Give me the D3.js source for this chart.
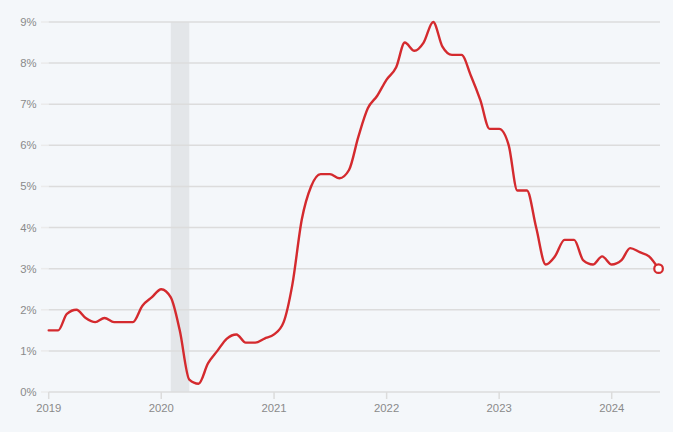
<!DOCTYPE html>
<html><head><meta charset="utf-8">
<script src="https://cdn.jsdelivr.net/npm/d3@7"></script>
<style>
html,body{margin:0;padding:0;background:#f4f7fa;}
svg{display:block;font-family:"Liberation Sans",Arial,sans-serif;}
</style></head>
<body><svg id="c" width="673" height="432"></svg>
<script>
// Monthly values, Jan 2019 – Jun 2024 (%)
const startYear = 2019;
const values = [
  1.5,1.5,1.9,2.0,1.8,1.7,1.8,1.7,1.7,1.7,2.1,2.3,
  2.5,2.3,1.5,0.3,0.2,0.7,1.0,1.3,1.4,1.2,1.2,1.3,
  1.4,1.7,2.6,4.2,5.0,5.3,5.3,5.2,5.4,6.2,6.9,7.2,
  7.6,7.9,8.5,8.3,8.5,9.0,8.4,8.2,8.2,7.7,7.1,6.4,
  6.4,6.0,4.9,4.9,4.0,3.1,3.3,3.7,3.7,3.2,3.1,3.3,
  3.1,3.2,3.5,3.4,3.3,3.0
];
const yTicks = [0,1,2,3,4,5,6,7,8,9];
const xTickYears = [2019,2020,2021,2022,2023,2024];
const recession = [new Date(2020,1,1), new Date(2020,3,1)];

const data = values.map((v,i)=>({date:new Date(startYear, i, 1), value:v}));

const svg = d3.select("#c");
const x = d3.scaleTime().domain([new Date(2019,0,1), new Date(2024,0,1)]).range([48.7, 611.7]);
const y = d3.scaleLinear().domain([0,9]).range([392, 22]);
const plotRight = 660;

// recession band
svg.append("rect")
  .attr("x", x(recession[0])).attr("y", y(9))
  .attr("width", x(recession[1]) - x(recession[0]))
  .attr("height", y(0) - y(9))
  .attr("fill", "#e3e6e9");

// y grid + labels
const yg = svg.append("g");
yTicks.forEach(t=>{
  yg.append("line").attr("x1",41).attr("x2",48.7).attr("y1",y(t)).attr("y2",y(t))
    .attr("stroke","#ebebeb").attr("stroke-width",1.5);
  yg.append("line").attr("x1",48.7).attr("x2",plotRight).attr("y1",y(t)).attr("y2",y(t))
    .attr("stroke","#dcdcdc").attr("stroke-width",1.5);
  yg.append("text").attr("x",36.5).attr("y",y(t)).attr("dy","0.35em")
    .attr("text-anchor","end").attr("font-size","11.3px").attr("fill","#8a8a8a")
    .text(t+"%");
});

// x axis
const xg = svg.append("g");
xTickYears.forEach(yr=>{
  const xx = x(new Date(yr,0,1));
  xg.append("line").attr("x1",xx).attr("x2",xx).attr("y1",392).attr("y2",399)
    .attr("stroke","#dcdcdc").attr("stroke-width",1.5);
  xg.append("text").attr("x",xx).attr("y",408).attr("dy","0.35em")
    .attr("text-anchor","middle").attr("font-size","11.3px").attr("fill","#8a8a8a")
    .text(yr);
});

// line
const line = d3.line().x(d=>x(d.date)).y(d=>y(d.value)).curve(d3.curveMonotoneX);
svg.append("path").datum(data).attr("d",line)
  .attr("fill","none").attr("stroke","#d42a2e").attr("stroke-width",2.4)
  .attr("stroke-linejoin","round").attr("stroke-linecap","round");

// end marker
const last = data[data.length-1];
svg.append("circle").attr("cx",x(last.date)).attr("cy",y(last.value)).attr("r",4.3)
  .attr("fill","#ffffff").attr("stroke","#d42a2e").attr("stroke-width",2.2);
</script></body></html>
